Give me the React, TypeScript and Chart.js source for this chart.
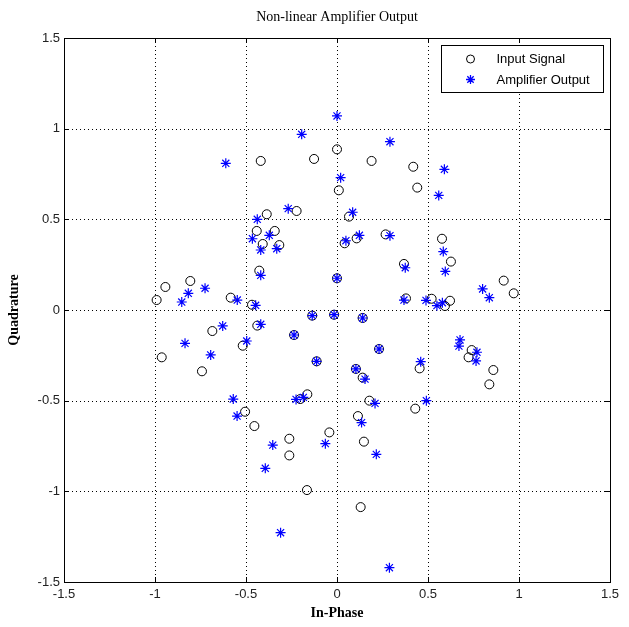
import React, { useEffect, useRef } from "react";
import { Chart, registerables } from "chart.js";

Chart.register(...registerables);

const TITLE = "Non-linear Amplifier Output";
const X_TITLE = "In-Phase";
const Y_TITLE = "Quadrature";
const LEGEND_LABELS = ["Input Signal", "Amplifier Output"];
const AXIS_MIN = -1.5;
const AXIS_MAX = 1.5;
const AXIS_STEP = 0.5;

// Input signal (circles)
const inputI = [
  -0.419, -0.126, 0.0, 0.01, -0.222, -0.386, -0.441, -0.342, -0.408, -0.317, -0.427, 0.0,
  -0.943, -0.806, -0.991, -0.584, -0.467,
  0.19, 0.419, 0.441, 0.066, 0.577, 0.626, 0.108, 0.042, 0.267, 0.368, 0.916, 0.971,
  0.379, 0.52, 0.593, 0.621,
  -0.685, -0.963, -0.742, -0.518, -0.438, -0.136, -0.016, -0.236, -0.112, -0.505, -0.454,
  -0.202, -0.163, -0.262, -0.262, -0.042, -0.165,
  0.141, 0.231, 0.104, 0.141, 0.454, 0.74, 0.723, 0.859, 0.837, 0.178, 0.43, 0.115, 0.148, 0.13,
];
const inputQ = [
  0.822, 0.833, 0.886, 0.66, 0.546, 0.528, 0.436, 0.436, 0.364, 0.358, 0.217, 0.175,
  0.127, 0.16, 0.055, 0.068, 0.029,
  0.822, 0.79, 0.675, 0.515, 0.393, 0.267, 0.395, 0.368, 0.417, 0.254, 0.162, 0.092,
  0.064, 0.062, 0.022, 0.051,
  -0.116, -0.261, -0.338, -0.197, -0.086, -0.031, -0.026, -0.138, -0.283, -0.561, -0.64,
  -0.491, -0.465, -0.71, -0.802, -0.675, -0.993,
  -0.044, -0.215, -0.325, -0.373, -0.322, -0.221, -0.261, -0.331, -0.41, -0.5, -0.544, -0.585, -0.726, -1.087,
];

// Amplifier output (asterisks)
const ampI = [
  -0.611, -0.194, 0.0, 0.02, -0.268, -0.438, -0.465, -0.372, -0.419, -0.331, -0.419, 0.0,
  -0.725, -0.817, -0.853, -0.548, -0.447,
  0.291, 0.59, 0.559, 0.086, 0.584, 0.595, 0.123, 0.049, 0.291, 0.375, 0.8, 0.837,
  0.368, 0.489, 0.549, 0.579,
  -0.628, -0.835, -0.694, -0.496, -0.419, -0.136, -0.016, -0.236, -0.112, -0.57, -0.549,
  -0.225, -0.185, -0.353, -0.394, -0.064,
  0.141, 0.231, 0.104, 0.154, 0.46, 0.676, 0.67, 0.769, 0.764, 0.209, 0.491, 0.135, 0.216,
  -0.31, 0.288,
];
const ampQ = [
  0.809, 0.969, 1.07, 0.73, 0.559, 0.5, 0.393, 0.412, 0.331, 0.338, 0.191, 0.175,
  0.12, 0.092, 0.044, 0.055, 0.026,
  0.928, 0.776, 0.632, 0.539, 0.322, 0.213, 0.412, 0.382, 0.41, 0.233, 0.116, 0.068,
  0.055, 0.053, 0.024, 0.04,
  -0.088, -0.184, -0.248, -0.171, -0.079, -0.031, -0.026, -0.138, -0.283, -0.491, -0.585,
  -0.493, -0.482, -0.745, -0.873, -0.737,
  -0.044, -0.215, -0.325, -0.381, -0.285, -0.165, -0.199, -0.233, -0.281, -0.515, -0.5, -0.621, -0.796,
  -1.228, -1.421,
];

const CIRCLE_COLOR = "#000000";
const STAR_COLOR = "#0000ff";
const SANS = "Arial, 'Liberation Sans', sans-serif";
const SERIF = "'Times New Roman', 'Liberation Serif', serif";

function drawAsterisk(ctx: CanvasRenderingContext2D, x: number, y: number, r: number) {
  ctx.beginPath();
  ctx.moveTo(x - r, y);
  ctx.lineTo(x + r, y);
  ctx.moveTo(x, y - r);
  ctx.lineTo(x, y + r);
  const d = r * Math.SQRT1_2;
  ctx.moveTo(x - d, y - d);
  ctx.lineTo(x + d, y + d);
  ctx.moveTo(x - d, y + d);
  ctx.lineTo(x + d, y - d);
  ctx.stroke();
}

const framePlugin = {
  id: "matlabFrame",
  beforeDatasetsDraw(chart: any) {
    const { ctx, chartArea: a, scales } = chart;
    const xs = scales.x;
    const ys = scales.y;
    ctx.save();
    ctx.strokeStyle = "#000";
    ctx.lineWidth = 1;
    ctx.setLineDash([1, 3]);
    for (const t of xs.ticks) {
      if (t.value <= AXIS_MIN || t.value >= AXIS_MAX) continue;
      const px = Math.round(xs.getPixelForValue(t.value)) + 0.5;
      ctx.beginPath();
      ctx.moveTo(px, a.top);
      ctx.lineTo(px, a.bottom);
      ctx.stroke();
    }
    for (const t of ys.ticks) {
      if (t.value <= AXIS_MIN || t.value >= AXIS_MAX) continue;
      const py = Math.round(ys.getPixelForValue(t.value)) + 0.5;
      ctx.beginPath();
      ctx.moveTo(a.left, py);
      ctx.lineTo(a.right, py);
      ctx.stroke();
    }
    ctx.restore();
  },
  afterDraw(chart: any) {
    const { ctx, chartArea: a, scales } = chart;
    const xs = scales.x;
    const ys = scales.y;
    ctx.save();
    ctx.setLineDash([]);
    ctx.strokeStyle = "#000";
    ctx.lineWidth = 1;
    // box
    ctx.strokeRect(Math.round(a.left) + 0.5, Math.round(a.top) + 0.5, Math.round(a.right - a.left), Math.round(a.bottom - a.top));
    // inward ticks
    const tl = 5;
    for (const t of xs.ticks) {
      const px = Math.round(xs.getPixelForValue(t.value)) + 0.5;
      ctx.beginPath();
      ctx.moveTo(px, a.bottom);
      ctx.lineTo(px, a.bottom - tl);
      ctx.moveTo(px, a.top);
      ctx.lineTo(px, a.top + tl);
      ctx.stroke();
    }
    for (const t of ys.ticks) {
      const py = Math.round(ys.getPixelForValue(t.value)) + 0.5;
      ctx.beginPath();
      ctx.moveTo(a.left, py);
      ctx.lineTo(a.left + tl, py);
      ctx.moveTo(a.right, py);
      ctx.lineTo(a.right - tl, py);
      ctx.stroke();
    }

    // legend
    const lw = 162;
    const lh = 47;
    const lx = Math.round(a.right - 7 - lw) + 0.5;
    const ly = Math.round(a.top + 7) + 0.5;
    ctx.fillStyle = "#fff";
    ctx.fillRect(lx, ly, lw, lh);
    ctx.strokeStyle = "#000";
    ctx.strokeRect(lx, ly, lw, lh);
    const mx = lx + 29;
    const row1 = ly + 13.5;
    const row2 = ly + 34;
    ctx.beginPath();
    ctx.strokeStyle = CIRCLE_COLOR;
    ctx.lineWidth = 1;
    ctx.arc(mx, row1, 4, 0, Math.PI * 2);
    ctx.stroke();
    ctx.strokeStyle = STAR_COLOR;
    ctx.lineWidth = 1.3;
    drawAsterisk(ctx, mx, row2, 4.5);
    ctx.fillStyle = "#000";
    ctx.font = `13px ${SANS}`;
    ctx.textAlign = "left";
    ctx.textBaseline = "middle";
    ctx.fillText(LEGEND_LABELS[0], lx + 55, row1 + 0.5);
    ctx.fillText(LEGEND_LABELS[1], lx + 55, row2 + 0.5);

    // titles
    const cx = (a.left + a.right) / 2;
    ctx.textAlign = "center";
    ctx.textBaseline = "middle";
    ctx.font = `14px ${SERIF}`;
    ctx.fillText(TITLE, cx, 17);
    ctx.font = `bold 14px ${SERIF}`;
    ctx.fillText(X_TITLE, cx, 613);
    ctx.save();
    ctx.translate(14, (a.top + a.bottom) / 2);
    ctx.rotate(-Math.PI / 2);
    ctx.fillText(Y_TITLE, 0, 0);
    ctx.restore();
    ctx.restore();
  },
};

const fmtTick = (v: any) => String(Number(v));

export default function App() {
  const canvasRef = useRef<HTMLCanvasElement | null>(null);

  useEffect(() => {
    const canvas = canvasRef.current;
    if (!canvas) return;
    const inputPts = inputI.map((v, i) => ({ x: v, y: inputQ[i] }));
    const ampPts = ampI.map((v, i) => ({ x: v, y: ampQ[i] }));
    const tickFont = { family: SANS, size: 13 };
    const chart = new Chart(canvas, {
      type: "scatter",
      data: {
        datasets: [
          {
            label: LEGEND_LABELS[0],
            data: inputPts,
            pointStyle: "circle",
            pointRadius: 4.5,
            pointHoverRadius: 4.5,
            pointBorderWidth: 1,
            borderColor: CIRCLE_COLOR,
            backgroundColor: "rgba(0,0,0,0)",
            order: 1,
          },
          {
            label: LEGEND_LABELS[1],
            data: ampPts,
            pointStyle: "star",
            pointRadius: 5,
            pointHoverRadius: 5,
            pointBorderWidth: 1.2,
            borderColor: STAR_COLOR,
            backgroundColor: STAR_COLOR,
            order: 0,
          },
        ],
      },
      options: {
        responsive: false,
        animation: false,
        devicePixelRatio: 1,
        layout: { padding: { top: 38, right: 19, left: 0, bottom: 0 } },
        plugins: {
          legend: { display: false },
          title: { display: false },
          tooltip: { enabled: false },
        },
        scales: {
          x: {
            type: "linear",
            min: AXIS_MIN,
            max: AXIS_MAX,
            ticks: { stepSize: AXIS_STEP, color: "#222", font: tickFont, padding: 5, maxRotation: 0, callback: fmtTick },
            grid: { display: false, drawTicks: false },
            border: { display: false },
            afterFit: (s: any) => {
              s.height = 45;
            },
          },
          y: {
            type: "linear",
            min: AXIS_MIN,
            max: AXIS_MAX,
            ticks: { stepSize: AXIS_STEP, color: "#222", font: tickFont, padding: 4, callback: fmtTick },
            grid: { display: false, drawTicks: false },
            border: { display: false },
            afterFit: (s: any) => {
              s.width = 64;
            },
          },
        },
      },
      plugins: [framePlugin],
    } as any);
    return () => chart.destroy();
  }, []);

  return (
    <div style={{ position: "absolute", left: 0, top: 0, width: 629, height: 627, background: "#fff" }}>
      <canvas ref={canvasRef} width={629} height={627} style={{ width: 629, height: 627, display: "block" }} />
    </div>
  );
}
